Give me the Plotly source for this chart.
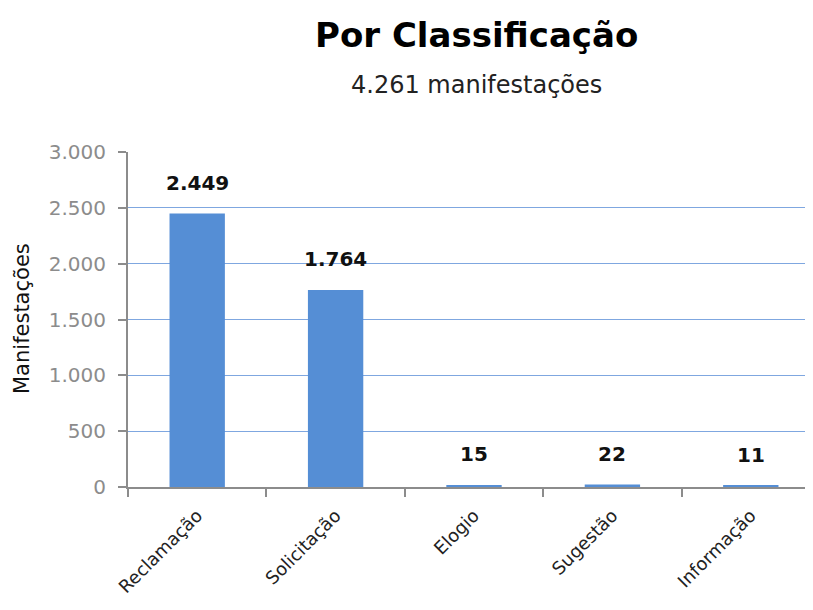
import plotly.graph_objects as go

categories = ["Reclamação", "Solicitação", "Elogio", "Sugestão", "Informação"]
values = [2449, 1764, 15, 22, 11]
y_ticks = [0, 500, 1000, 1500, 2000, 2500, 3000]
y_tick_labels = ["0", "500", "1.000", "1.500", "2.000", "2.500", "3.000"]
title = "Por Classificação"
subtitle = "4.261 manifestações"
y_title = "Manifestações"

OFF = 8  # page body margin
W, H = 813 - 2 * OFF, 610 - 2 * OFF
ML, MT = 128 - OFF, 152 - OFF
MB = H - (487 - OFF)
MR = 0
PW, PH = W - ML - MR, H - MT - MB


def fmt(v):
    return f"{v:,}".replace(",", ".")


def px_to_paper(px, py):
    return (px - OFF - ML) / PW, (H - MB - (py - OFF)) / PH


fig = go.Figure()
fig.add_trace(go.Bar(
    x=categories, y=values, width=0.4,
    marker=dict(color="#558ED5", line=dict(width=0)),
    hoverinfo="x+y",
))

annotations = []
for c, v in zip(categories, values):
    annotations.append(dict(x=c, y=v, xref="x", yref="y", text=f"<b>{fmt(v)}</b>",
                            showarrow=False, yshift=31,
                            font=dict(size=20, color="#111111")))

tx, ty = px_to_paper(476, 35)
annotations.append(dict(text=f"<b>{title}</b>", x=tx, y=ty, xref="paper", yref="paper",
                        showarrow=False, xanchor="center", yanchor="middle",
                        font=dict(size=34, color="black")))
sx, sy = px_to_paper(476, 85)
annotations.append(dict(text=subtitle, x=sx, y=sy, xref="paper", yref="paper",
                        showarrow=False, xanchor="center", yanchor="middle",
                        font=dict(size=24, color="#222222")))
ax, ay = px_to_paper(22, 319)
annotations.append(dict(text=y_title, x=ax, y=ay, xref="paper", yref="paper",
                        showarrow=False, xanchor="center", yanchor="middle",
                        textangle=-90, font=dict(size=21, color="#111111")))

font_family = "DejaVu Sans, sans-serif"
fig.update_layout(
    width=W, height=H,
    paper_bgcolor="white", plot_bgcolor="white",
    margin=dict(l=ML, r=MR, t=MT, b=MB, autoexpand=False),
    font=dict(family=font_family),
    separators=",.",
    showlegend=False,
    annotations=annotations,
)

fig.update_xaxes(
    type="category", range=[-0.5, -0.5 + PW / 138.4], automargin=False,
    showline=True, linecolor="#8C8C8C", linewidth=2,
    ticks="outside", tickson="boundaries", ticklen=8, tickcolor="#8C8C8C", tickwidth=1.5,
    tickangle=-45, tickfont=dict(size=18, color="#222222"),
    ticklabelstandoff=9,
    showgrid=False,
)
fig.update_yaxes(
    range=[0, 3000], tickvals=y_ticks, ticktext=y_tick_labels, automargin=False,
    showline=True, linecolor="#8C8C8C", linewidth=2,
    ticks="outside", ticklen=8, tickcolor="#8C8C8C", tickwidth=1.5,
    tickfont=dict(size=20, color="#8C8C8C"),
    ticklabelstandoff=8,
    showgrid=True, gridcolor="#7FA7E0", gridwidth=1,
    zeroline=False,
)

fig.write_html("out.html")
